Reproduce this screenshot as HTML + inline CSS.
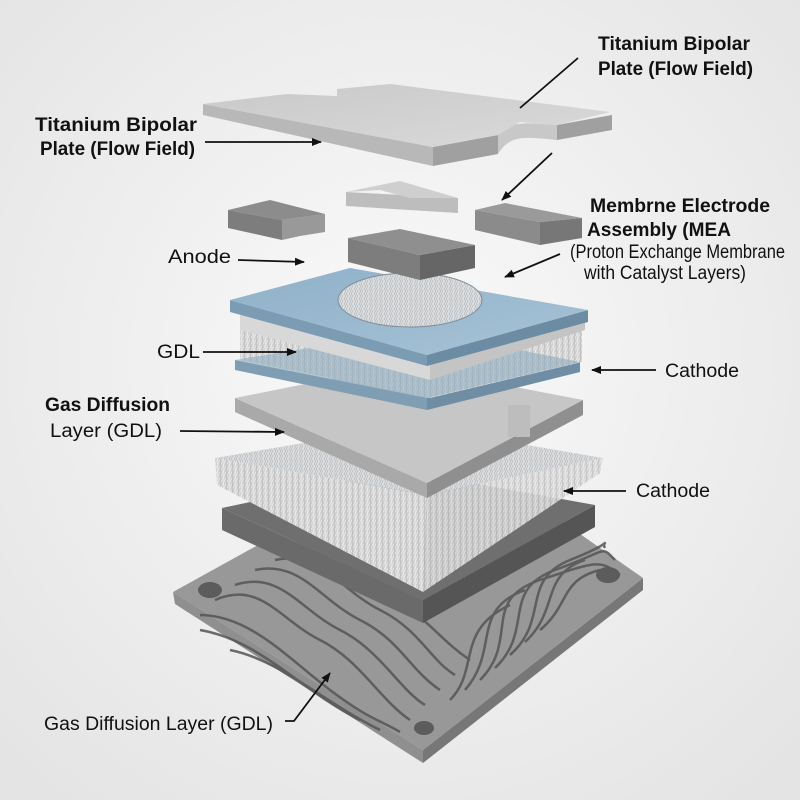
<!DOCTYPE html>
<html><head><meta charset="utf-8"><style>
html,body{margin:0;padding:0;width:800px;height:800px;overflow:hidden;background:#f2f2f2}
svg{display:block}
text{font-family:"Liberation Sans",sans-serif;fill:#111}
</style></head><body>
<svg width="800" height="800" viewBox="0 0 800 800">
<defs>
<radialGradient id="bg" cx="50%" cy="45%" r="70%"><stop offset="0" stop-color="#fafafa"/><stop offset="1" stop-color="#e4e4e4"/></radialGradient>
<linearGradient id="top" x1="0" y1="0" x2="1" y2="1"><stop offset="0" stop-color="#c9c9c9"/><stop offset="1" stop-color="#dadada"/></linearGradient>
<linearGradient id="blue" x1="0" y1="0" x2="1" y2="1"><stop offset="0" stop-color="#8fb1c9"/><stop offset="1" stop-color="#a7c2d6"/></linearGradient>
<pattern id="fib" width="6" height="6" patternUnits="userSpaceOnUse"><rect width="6" height="6" fill="#d0d0d0"/><path d="M0 6L3 0M3 6L6 0M1 0L2 6" stroke="#eeeeee" stroke-width="0.7"/><path d="M4 0L5 6" stroke="#a5a5a5" stroke-width="0.5"/></pattern>
<pattern id="fib2" width="5" height="5" patternUnits="userSpaceOnUse"><rect width="5" height="5" fill="#bfc2c5"/><path d="M0 5L2 0M2 5L4 0M3 5L5 0" stroke="#eeeeee" stroke-width="0.6"/></pattern>
<marker id="ar" markerWidth="10" markerHeight="8" refX="9" refY="4" orient="auto" markerUnits="userSpaceOnUse"><path d="M0 0L10 4L0 8z" fill="#111"/></marker>
</defs>
<rect width="800" height="800" fill="url(#bg)"/>

<!-- base plate -->
<polygon points="173,592 423,750 423,763 175,604" fill="#8f8f8f"/>
<polygon points="423,750 643,578 643,590 423,763" fill="#777"/>
<polygon points="173,592 258,545 560,520 643,578 423,750" fill="#989898"/>
<g fill="none" stroke="#555" stroke-width="2.5" opacity="0.85">
<path d="M215,600 C260,580 280,620 320,640 S380,700 410,720"/>
<path d="M235,585 C280,570 300,610 340,630 S400,690 425,705"/>
<path d="M255,570 C300,560 320,600 360,620 S410,670 440,690"/>
<path d="M275,560 C320,550 340,590 380,610 S430,660 455,675"/>
<path d="M300,555 C340,545 360,580 395,600 S440,640 470,660"/>
<path d="M200,615 C250,615 290,660 330,690 S380,720 400,732"/>
<path d="M480,680 C520,640 480,600 540,580 S600,560 620,575"/>
<path d="M495,668 C535,630 500,590 555,570 S600,545 615,560"/>
<path d="M510,655 C550,620 520,580 570,560 S600,540 605,548"/>
<path d="M525,642 C560,610 540,575 585,560"/>
<path d="M540,630 C570,605 560,580 600,570"/>
<path d="M465,690 C500,650 470,610 525,590"/>
<path d="M450,700 C480,670 455,630 510,605"/>
<path d="M200,630 C260,640 300,690 360,720"/>
<path d="M230,650 C280,660 320,700 380,730"/>
</g>
<ellipse cx="210" cy="590" rx="12" ry="8" fill="#5c5c5c"/>
<ellipse cx="608" cy="575" rx="12" ry="8" fill="#5c5c5c"/>
<ellipse cx="424" cy="728" rx="10" ry="7" fill="#5c5c5c"/>

<!-- dark plate -->
<polygon points="222,508 423,600 423,623 222,530" fill="#6a6a6a"/>
<polygon points="423,600 595,505 595,527 423,623" fill="#555"/>
<polygon points="222,508 400,470 595,505 423,600" fill="#6f6f6f"/>

<!-- fibrous GDL -->
<polygon points="215,458 427,495 423,592 217,485" fill="url(#fib)"/>
<polygon points="427,495 603,458 600,473 423,592" fill="url(#fib)" opacity="0.9"/>
<polygon points="215,458 410,425 603,458 427,495" fill="url(#fib2)"/>

<!-- gray frame plate -->
<polygon points="235,398 427,483 427,498 235,412" fill="#a9a9a9"/>
<polygon points="427,483 583,400 583,415 427,498" fill="#8f8f8f"/>
<polygon points="235,398 400,365 583,400 427,483" fill="#c6c6c6"/>
<rect x="508" y="405" width="22" height="32" fill="#bdbdbd"/>

<!-- MEA stack -->
<polygon points="235,360 427,398 427,410 235,370" fill="#7f9db3"/>
<polygon points="427,398 580,362 580,372 427,410" fill="#6f8ea5"/>
<polygon points="240,315 430,360 430,398 240,360" fill="url(#fib)"/>
<polygon points="430,360 582,318 582,362 430,398" fill="url(#fib)"/>
<polygon points="235,360 420,330 580,362 427,398" fill="#8eabc0" opacity="0.6"/>
<polygon points="240,310 430,355 430,380 240,330" fill="#d8d8d8"/>
<polygon points="430,355 585,318 585,330 430,380" fill="#c4c4c4"/>
<polygon points="230,300 230,312 427,366 427,355" fill="#7c9cb3"/>
<polygon points="427,355 588,310 588,322 427,366" fill="#6c8ca4"/>
<polygon points="230,300 350,268 588,310 427,355" fill="url(#blue)"/>
<ellipse cx="410" cy="300" rx="72" ry="27" fill="url(#fib2)" stroke="#7b8c98"/>

<!-- small blocks -->
<polygon points="348,238 420,255 420,280 348,262" fill="#7d7d7d"/>
<polygon points="420,255 475,245 475,268 420,280" fill="#666"/>
<polygon points="348,238 400,229 475,245 420,255" fill="#8f8f8f"/>

<polygon points="228,210 282,220 282,240 228,228" fill="#7d7d7d"/>
<polygon points="282,220 325,214 325,232 300,236 282,240" fill="#999"/>
<polygon points="228,210 270,200 325,214 282,220" fill="#8c8c8c"/>

<polygon points="346,192 346,206 458,213 458,198" fill="#bdbdbd"/>
<polygon points="346,192 400,181 458,198 410,198 380,190" fill="#cfcfcf"/>

<polygon points="475,210 540,222 540,245 475,230" fill="#8b8b8b"/>
<polygon points="540,222 582,218 582,238 540,245" fill="#777"/>
<polygon points="475,210 505,203 582,218 540,222" fill="#9a9a9a"/>

<!-- top plate -->
<polygon points="203,104 433,147 433,166 203,115" fill="#b8b8b8"/>
<polygon points="433,147 498,135 498,154 433,166" fill="#a0a0a0"/>
<polygon points="557,125 612,115 612,130 557,140" fill="#a0a0a0"/>
<path d="M498,135 C510,122 520,122 557,125 L557,140 C520,136 510,136 498,154 Z" fill="#c8c8c8"/>
<polygon points="203,104 287,94 337,96 337,89 390,84 610,112 557,125 520,122 498,135 433,147" fill="url(#top)"/>

<!-- labels -->
<g font-size="19" font-weight="bold">
<text x="598" y="50" textLength="152" lengthAdjust="spacingAndGlyphs">Titanium Bipolar</text>
<text x="598" y="75" textLength="155" lengthAdjust="spacingAndGlyphs">Plate (Flow Field)</text>
<text x="35" y="131" textLength="162" lengthAdjust="spacingAndGlyphs">Titanium Bipolar</text>
<text x="40" y="155" textLength="155" lengthAdjust="spacingAndGlyphs">Plate (Flow Field)</text>
<text x="590" y="212" textLength="180" lengthAdjust="spacingAndGlyphs">Membrne Electrode</text>
<text x="587" y="236" textLength="144" lengthAdjust="spacingAndGlyphs">Assembly (MEA</text>
<text x="45" y="411" textLength="125" lengthAdjust="spacingAndGlyphs">Gas Diffusion</text>
<text x="50" y="437" font-weight="normal" textLength="112" lengthAdjust="spacingAndGlyphs">Layer (GDL)</text>
</g>
<g font-size="19">
<text x="570" y="258" textLength="215" lengthAdjust="spacingAndGlyphs">(Proton Exchange Membrane</text>
<text x="584" y="279" textLength="162" lengthAdjust="spacingAndGlyphs">with Catalyst Layers)</text>
<text x="168" y="263" textLength="63" lengthAdjust="spacingAndGlyphs">Anode</text>
<text x="157" y="358" textLength="43" lengthAdjust="spacingAndGlyphs">GDL</text>
<text x="665" y="377" textLength="74" lengthAdjust="spacingAndGlyphs">Cathode</text>
<text x="636" y="497" textLength="74" lengthAdjust="spacingAndGlyphs">Cathode</text>
<text x="44" y="730" textLength="229" lengthAdjust="spacingAndGlyphs">Gas Diffusion Layer (GDL)</text>
</g>
<g stroke="#111" stroke-width="1.8" fill="none">
<line x1="578" y1="58" x2="520" y2="108"/>
<line x1="205" y1="142" x2="321" y2="142" marker-end="url(#ar)"/>
<line x1="552" y1="153" x2="502" y2="200" marker-end="url(#ar)"/>
<line x1="560" y1="254" x2="505" y2="277" marker-end="url(#ar)"/>
<line x1="238" y1="260" x2="304" y2="262" marker-end="url(#ar)"/>
<line x1="203" y1="352" x2="296" y2="352" marker-end="url(#ar)"/>
<line x1="656" y1="370" x2="592" y2="370" marker-end="url(#ar)"/>
<line x1="180" y1="431" x2="284" y2="432" marker-end="url(#ar)"/>
<line x1="626" y1="491" x2="564" y2="491" marker-end="url(#ar)"/>
<polyline points="285,721 294,721 330,673" marker-end="url(#ar)"/>
</g>
</svg>
</body></html>
